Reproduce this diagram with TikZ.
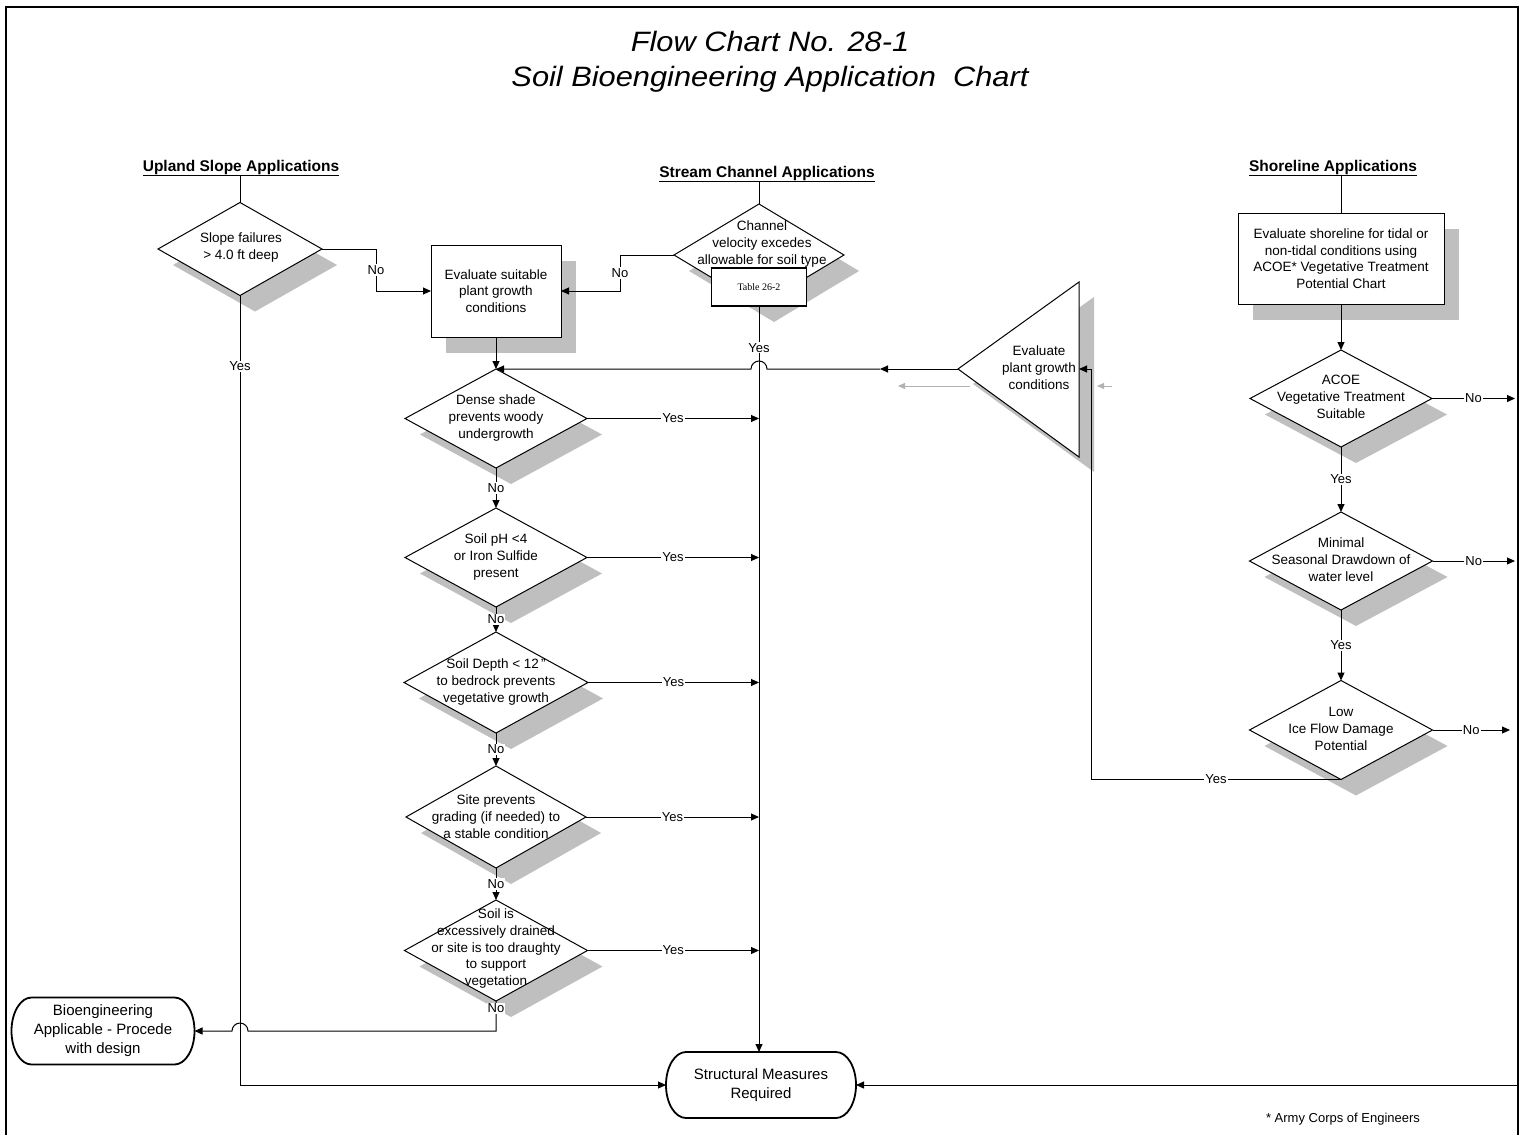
\documentclass[tikz,border=0pt]{standalone}
\usepackage{fontspec}
\setmainfont{Liberation Sans}
\newfontfamily\titlefont[FakeStretch=1.1]{Liberation Sans}
\newfontfamily\tabfont{Liberation Serif}
\usetikzlibrary{shapes.geometric,arrows.meta,shadows}
\tikzset{
  ln/.style={line width=1pt, draw=black},
  arr/.style={ln, -{Triangle[length=8pt,width=7pt]}},
  garr/.style={line width=1pt, draw=black!30, -{Triangle[length=7pt,width=6pt]}},
  shad/.style={drop shadow={shadow xshift=15pt, shadow yshift=-16pt, fill=black!25, opacity=1}},
  dia/.style={diamond, draw, line width=1pt, fill=white, inner sep=0pt, outer sep=0pt, shad},
  box/.style={rectangle, draw, line width=1pt, fill=white, inner sep=0pt, outer sep=0pt, shad,
    align=center, font=\fontsize{13.5}{16.5}\selectfont},
  txt/.style={align=center, inner sep=0pt, font=\fontsize{13.5}{17}\selectfont},
  lbl/.style={fill=white, inner sep=1pt, font=\fontsize{13}{15}\selectfont},
  hdr/.style={inner sep=0pt, font=\bfseries\fontsize{15.5}{18}\selectfont},
  titlef/.style={inner sep=0pt, font=\titlefont\itshape\fontsize{28}{34}\selectfont},
  termtxt/.style={align=center, inner sep=0pt, outer sep=0pt, font=\fontsize{15}{19}\selectfont},
  tabbox/.style={rectangle, draw, line width=1.6pt, fill=white, inner sep=0pt, outer sep=0pt,
    minimum width=95pt, minimum height=38pt, font=\tabfont\fontsize{10}{12}\selectfont}
}
\begin{document}
\begin{tikzpicture}[x=1pt,y=1pt]
\useasboundingbox (0,0) rectangle (1527,-1135);
\fill[white] (0,0) rectangle (1527,-1135);

% frame
\draw[line width=2pt] (6,-1135) -- (6,-7) -- (1518,-7) -- (1518,-1135);

% titles
\node[titlef, anchor=base] (title1) at (770,-51) {Flow Chart No. 28-1};
\node[titlef, anchor=base] (title2) at (770,-86) {Soil Bioengineering Application~~Chart};

% headers
\node[hdr, anchor=base] (h1) at (241,-171) {\underline{Upland Slope Applications}};
\node[hdr, anchor=base] (h2) at (767,-177) {\underline{Stream Channel Applications}};
\node[hdr, anchor=base] (h3) at (1333,-171) {\underline{Shoreline Applications}};

% upland
\node[dia, minimum width=164pt, minimum height=93pt] (slope) at (240,-249) {};
\node[txt] (slopet) at (241,-248) {Slope failures\\ > 4.0 ft deep};

\node[box, minimum width=130pt, minimum height=92pt] (eval) at (496,-291) {Evaluate suitable\\plant growth\\conditions};

% stream
\node[dia, minimum width=170pt, minimum height=102pt] (chan) at (759,-255) {};
\node[txt] (chant) at (762,-244) {Channel\\velocity excedes\\allowable for soil type};
\node[tabbox] (tab) at (759,-287) {Table 26-2};

\node[dia, minimum width=182pt, minimum height=99pt] (dense) at (496,-418.5) {};
\node[txt] (denset) at (496,-418) {Dense shade\\prevents woody\\undergrowth};

\node[dia, minimum width=182pt, minimum height=99pt] (ph) at (496,-557.5) {};
\node[txt] (pht) at (496,-557) {Soil pH <4\\or Iron Sulfide\\present};

\node[dia, minimum width=184pt, minimum height=101pt] (depth) at (496,-682.5) {};
\node[txt] (deptht) at (496,-682) {Soil Depth < 12\,"\\to bedrock prevents\\vegetative growth};

\node[dia, minimum width=180pt, minimum height=102pt] (site) at (496,-817) {};
\node[txt] (sitet) at (496,-817) {Site prevents\\grading (if needed) to\\a stable condition};

\node[dia, minimum width=183pt, minimum height=101pt] (soil) at (496,-950.5) {};
\node[txt, font=\fontsize{13.5}{16.7}\selectfont] (soilt) at (496,-948.5) {Soil is\\excessively drained\\or site is too draughty\\to support\\vegetation};

% triangle
\coordinate (tritip) at (958,-369);
\coordinate (tritop) at (1079,-282);
\coordinate (tribot) at (1079,-457);
\coordinate (trieast) at (1079,-369);
\fill[black!25] ([shift={(15,-15)}]tritip) -- ([shift={(15,-15)}]tritop) -- ([shift={(15,-15)}]tribot) -- cycle;
\draw[line width=1pt, fill=white] (tritip) -- (tritop) -- (tribot) -- cycle;
\node[txt] (tri) at (1039,-368) {Evaluate\\plant growth\\conditions};

% shoreline
\node[box, minimum width=206pt, minimum height=91pt] (shore) at (1341,-258.5) {Evaluate shoreline for tidal or\\non-tidal conditions using\\ACOE* Vegetative Treatment\\Potential Chart};

\node[dia, minimum width=182pt, minimum height=97pt] (acoe) at (1341,-398.5) {};
\node[txt] (acoet) at (1341,-397) {ACOE\\Vegetative Treatment\\Suitable};

\node[dia, minimum width=183pt, minimum height=98pt] (minimal) at (1341,-561) {};
\node[txt] (minimalt) at (1341,-560) {Minimal\\Seasonal Drawdown of\\water level};

\node[dia, minimum width=183pt, minimum height=99pt] (ice) at (1341,-730) {};
\node[txt] (icet) at (1341,-729) {Low\\Ice Flow Damage\\Potential};

% terminals
\node[termtxt, minimum width=183pt, minimum height=67pt] (bio) at (103,-1031) {Bioengineering\\Applicable - Procede\\with design};
\draw[line width=1.8pt] ([xshift=20pt]bio.north west) -- ([xshift=-20pt]bio.north east)
  arc[start angle=90, end angle=-90, x radius=20pt, y radius=33.5pt]
  -- ([xshift=20pt]bio.south west)
  arc[start angle=270, end angle=90, x radius=20pt, y radius=33.5pt] -- cycle;

\node[termtxt, minimum width=190pt, minimum height=66pt] (struct) at (761,-1085) {Structural Measures\\Required};
\draw[line width=1.8pt] ([xshift=20pt]struct.north west) -- ([xshift=-20pt]struct.north east)
  arc[start angle=90, end angle=-90, x radius=20pt, y radius=33pt]
  -- ([xshift=20pt]struct.south west)
  arc[start angle=270, end angle=90, x radius=20pt, y radius=33pt] -- cycle;

\node[font=\fontsize{13}{15}\selectfont, inner sep=0pt] (foot) at (1343,-1119) {* Army Corps of Engineers};

% coordinates for connectors
\coordinate (cslope) at (376,-249);
\coordinate (cchan) at (620,-255);
\coordinate (cmark) at (880,-369);
\coordinate (jump1) at (767,-369);
\coordinate (csoil) at (496,-1031);
\coordinate (jump2) at (248,-1031);
\coordinate (cslb) at (240,-1085);
\coordinate (noA) at (1515,-398.5);
\coordinate (noB) at (1515,-561);
\coordinate (noC) at (1510,-730);
\coordinate (cice) at (1091,-779.5);
\coordinate (fr) at (1518,-1085);
\coordinate (g1a) at (970,-386);
\coordinate (g1b) at (898,-386);
\coordinate (g2a) at (1112,-386);
\coordinate (g2b) at (1097,-386);

% header lines
\draw[ln] (h1.south -| slope.north) -- (slope.north);
\draw[ln] (h2.south -| chan.north) -- (chan.north);
\draw[ln] (h3.south -| shore.north) -- (shore.north);

% upland / stream connectors
\draw[arr] (slope.east) -- (cslope) -- node[lbl]{No} (cslope |- eval.west) -- (eval.west);
\draw[arr] (chan.west) -- (cchan) -- node[lbl]{No} (cchan |- eval.east) -- (eval.east);
\draw[arr] (eval.south) -- (eval.south |- dense.north);
\draw[arr] (tritip) -- (cmark);
\draw[arr] (cmark) -- (jump1) arc[start angle=0, end angle=180, radius=8pt] -- (dense.north);
\draw[arr] (tab.south) -- node[lbl, pos=0.056]{Yes} (tab.south |- struct.north);

\foreach \d in {dense,ph,depth,site,soil}{
  \draw[arr] (\d.east) -- node[lbl]{Yes} (\d.east -| tab.south);
}
\draw[arr] (dense.south) -- node[lbl]{No} (ph.north);
\draw[arr] (ph.south) -- node[lbl]{No} (depth.north);
\draw[arr] (depth.south) -- node[lbl]{No} (site.north);
\draw[arr] (site.south) -- node[lbl]{No} (soil.north);
\draw[arr] (soil.south) -- node[lbl, pos=0.25]{No} (csoil) -- (jump2) arc[start angle=0, end angle=180, radius=8pt] -- (bio.east);
\draw[arr] (slope.south) -- node[lbl, pos=0.09]{Yes} (cslb) -- (struct.west);

% shoreline connectors
\draw[arr] (shore.south) -- (acoe.north);
\draw[arr] (acoe.east) -- node[lbl]{No} (noA);
\draw[arr] (acoe.south) -- node[lbl]{Yes} (minimal.north);
\draw[arr] (minimal.east) -- node[lbl]{No} (noB);
\draw[arr] (minimal.south) -- node[lbl]{Yes} (ice.north);
\draw[arr] (ice.east) -- node[lbl]{No} (noC);
\draw[arr] (ice.south) -- node[lbl]{Yes} (cice) -- (cice |- trieast) -- (trieast);
\draw[arr] (fr) -- (struct.east);

% grey arrows
\draw[garr] (g1a) -- (g1b);
\draw[garr] (g2a) -- (g2b);
\end{tikzpicture}
\end{document}
